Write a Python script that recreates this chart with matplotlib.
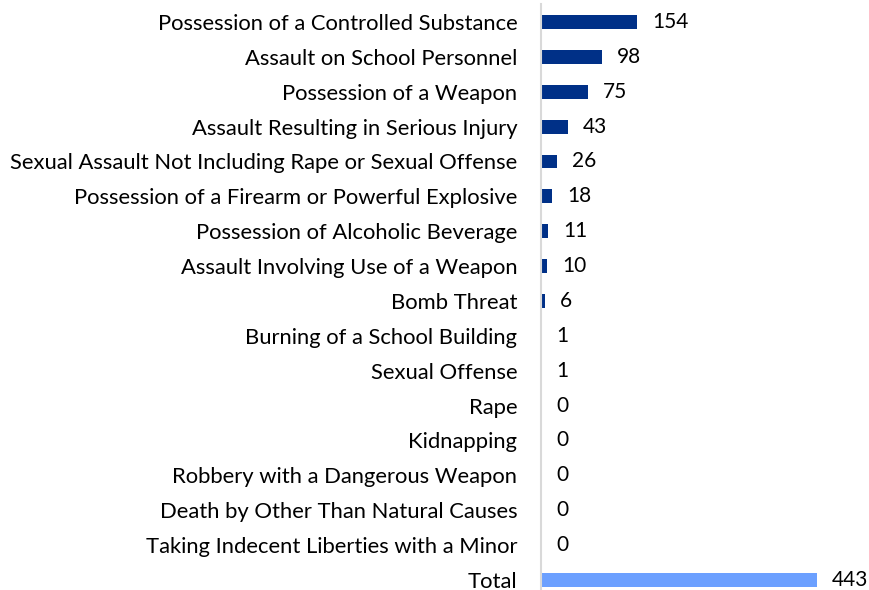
import matplotlib
matplotlib.use("Agg")
import matplotlib.pyplot as plt

categories = [
    "Possession of a Controlled Substance",
    "Assault on School Personnel",
    "Possession of a Weapon",
    "Assault Resulting in Serious Injury",
    "Sexual Assault Not Including Rape or Sexual Offense",
    "Possession of a Firearm or Powerful Explosive",
    "Possession of Alcoholic Beverage",
    "Assault Involving Use of a Weapon",
    "Bomb Threat",
    "Burning of a School Building",
    "Sexual Offense",
    "Rape",
    "Kidnapping",
    "Robbery with a Dangerous Weapon",
    "Death by Other Than Natural Causes",
    "Taking Indecent Liberties with a Minor",
    "Total",
]
values = [154, 98, 75, 43, 26, 18, 11, 10, 6, 1, 1, 0, 0, 0, 0, 0, 443]

dark = "#003087"
light = "#6CA0FF"
colors = [dark] * (len(values) - 1) + [light]

plt.rcParams['font.family'] = ['Lato', 'DejaVu Sans']

fig = plt.figure(figsize=(8.69, 5.90), dpi=100)
ax = fig.add_axes([541/869, 0, 328/869, 586/590])

y = list(range(len(values)))
ax.barh(y, values, height=0.4, color=colors)
ax.set_ylim(16.287, -0.516)
ax.set_xlim(0, 328/0.623)

for yi, v in zip(y, values):
    ax.annotate(str(v), (v, yi), xytext=(15, 0), textcoords="offset pixels",
                va="center", ha="left", fontsize=15, color="#000000")

ax.set_yticks(y)
ax.set_yticklabels(categories, fontsize=15.8)
ax.tick_params(axis="y", length=0, pad=17)
ax.set_xticks([])
for s in ["top", "right", "bottom"]:
    ax.spines[s].set_visible(False)
ax.spines["left"].set_color("#D9D9D9")
ax.spines["left"].set_linewidth(1.5)

fig.savefig("out.png", dpi=100)
